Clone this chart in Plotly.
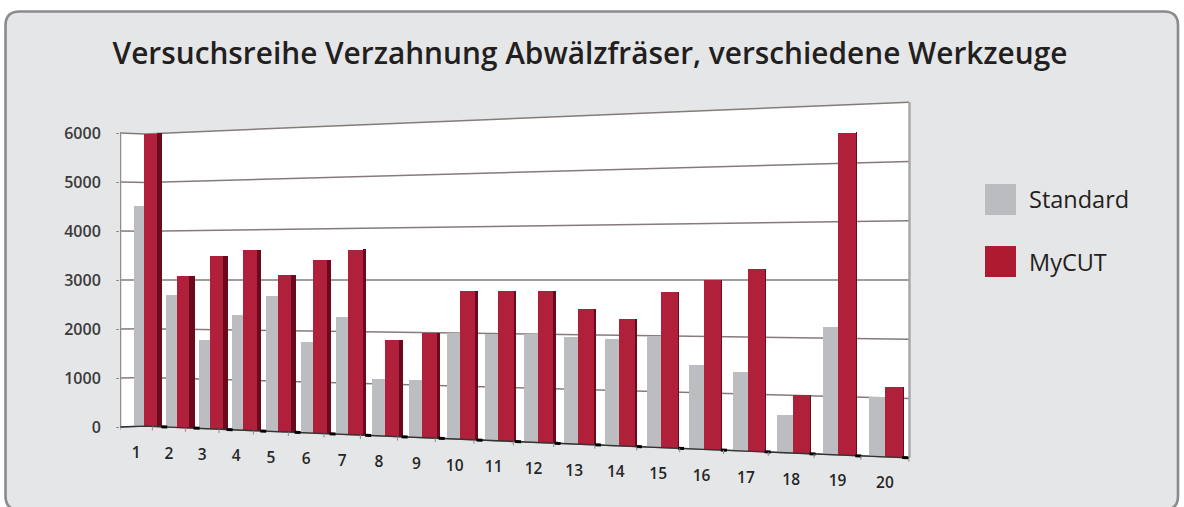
import plotly.graph_objects as go

categories = [str(i) for i in range(1, 21)]
standard = [4510, 2690, 1790, 2290, 2690, 1790, 2290, 1090, 1090, 2000,
            2000, 2000, 1960, 1930, 2000, 1490, 1390, 660, 2200, 1020]
mycut = [6000, 3080, 3490, 3590, 3090, 3390, 3590, 1850, 2000, 2790,
         2800, 2800, 2470, 2300, 2790, 3000, 3200, 1010, 5520, 1190]
y_ticks = [0, 1000, 2000, 3000, 4000, 5000, 6000]

W, H = 1184, 507
GREY, RED, DARK = "#bcbdc0", "#b0203b", "#6a0a1c"
GRID = "#857b7b"


def cell_edge(t):
    # perspective spacing of the category axis
    return 120 + 32.1 * t / (1 - 0.00931 * t)


def scale(x):
    return 48.7 + (max(x, 145) - 145) * 0.01386


def proj(v, x):
    # value seen on the receding wall, expressed on the left-hand value axis
    return 3000 + (v - 3000) * scale(x) / 49


n = len(categories)
edges = [cell_edge(i) for i in range(n + 1)]
red_left = [edges[i] + 24.2 for i in range(n)]
red_w = [18] * n
grey_w = [0.33 * (edges[i + 1] - edges[i]) for i in range(n)]
grey_c = [red_left[i] - grey_w[i] / 2 for i in range(n)]
red_c = [red_left[i] + red_w[i] / 2 for i in range(n)]
dark_w = [max(0.0, 5.5 * (1 - i / 16)) for i in range(n)]
dark_c = [red_left[i] + red_w[i] - dark_w[i] / 2 for i in range(n)]

fig = go.Figure()


def add_bars(name, centers, widths, values, color):
    fig.add_trace(go.Bar(
        name=name, x=centers, width=widths,
        base=[proj(0, c) for c in centers],
        y=[proj(v, c) - proj(0, c) for v, c in zip(values, centers)],
        marker=dict(color=color, line=dict(width=0)),
        showlegend=False,
    ))


add_bars("Standard", grey_c, grey_w, standard, GREY)
add_bars("MyCUT", red_c, red_w, mycut, RED)
add_bars("MyCUT side", dark_c, dark_w, mycut, DARK)

# floor line, tick marks, shadows
bx, by = [], []
for i in range(n):
    a = red_left[i] + red_w[i] - 1
    b = a + 6
    bx += [a, b, None]
    by += [proj(0, a), proj(0, b), None]
fig.add_trace(go.Scatter(x=[120, 145, 909], y=[0, proj(0, 145), proj(0, 909)], mode="lines",
                         line=dict(color="#333333", width=1.4), showlegend=False, hoverinfo="skip"))
fig.add_trace(go.Scatter(x=bx, y=by, mode="lines", line=dict(color="#000000", width=3),
                         showlegend=False, hoverinfo="skip"))
tx, ty = [], []
for e in edges:
    tx += [e, e, None]
    ty += [proj(0, e), proj(0, e) - 80, None]
fig.add_trace(go.Scatter(x=tx, y=ty, mode="lines", line=dict(color="#8a8a8a", width=1),
                         showlegend=False, hoverinfo="skip"))

# category labels follow the receding floor
lab_x = [(edges[i] + edges[i + 1]) / 2 for i in range(n)]
fig.add_trace(go.Scatter(
    x=lab_x, y=[proj(0, x) - 565 for x in lab_x], mode="text", text=categories,
    textfont=dict(family="Open Sans", size=15.5, color="#262626", weight=600),
    showlegend=False, hoverinfo="skip"))

shapes = [dict(type="path", xref="paper", yref="paper", layer="below",
               path="M {l},{t0} L {r0},{t0} Q {r},{t0} {r},{t1} L {r},{b1} Q {r},{b} {r0},{b} "
                    "L {l},{b} Q {L},{b} {L},{b1} L {L},{t1} Q {L},{t0} {l},{t0} Z".format(
                   L=5.5 / W, l=19.5 / W, r=1178 / W, r0=1164 / W,
                   t0=1 - 11.5 / H, t1=1 - 25.5 / H, b=1 - 510 / H, b1=1 - 496 / H),
               fillcolor="#e5e6e8", line=dict(color="#8a8b8d", width=2.6))]
shapes.append(dict(type="path", xref="x", yref="y", layer="below",
                   path=f"M 120,6000 L 145,{proj(6000,145)} L 909,{proj(6000,909)} "
                        f"L 909,{proj(0,909)} L 145,{proj(0,145)} L 120,0 Z",
                   fillcolor="#ffffff", line=dict(width=0)))
for v in y_ticks:
    shapes.append(dict(type="line", xref="x", yref="y", layer="below",
                       x0=120, y0=v, x1=145, y1=proj(v, 145), line=dict(color=GRID, width=1.5)))
    shapes.append(dict(type="line", xref="x", yref="y", layer="below",
                       x0=145, y0=proj(v, 145), x1=909, y1=proj(v, 909),
                       line=dict(color=GRID, width=1.5)))
shapes.append(dict(type="line", xref="x", yref="y", layer="below", x0=120.5, x1=120.5, y0=0, y1=6000,
                   line=dict(color="#8f8f8f", width=1.5)))
shapes.append(dict(type="line", xref="x", yref="y", layer="below", x0=909.5, x1=909.5,
                   y0=proj(0, 909), y1=proj(6000, 909), line=dict(color="#a6a6a8", width=2.4)))
# legend swatches
for top, col in [(184, "#bbbcbf"), (246, "#ae1a30")]:
    shapes.append(dict(type="rect", xref="paper", yref="paper", layer="below",
                       x0=985 / W, x1=1016 / W, y0=1 - (top + 31) / H, y1=1 - top / H,
                       fillcolor=col, line=dict(width=0)))

annotations = [
    dict(text=t, xref="paper", yref="paper", x=1026.5 / W, y=1 - yc / H, xanchor="left", yanchor="middle",
         showarrow=False, font=dict(family="Open Sans", size=23.5, color="#231f20"))
    for t, yc in [("Standard", 199), ("MyCUT", 262)]
]

fig.update_layout(
    width=W, height=H, margin=dict(l=0, r=0, t=0, b=0),
    autosize=False,
    paper_bgcolor="#ffffff", plot_bgcolor="rgba(0,0,0,0)",
    barmode="overlay", bargap=0,
    title=dict(text="Versuchsreihe Verzahnung Abwälzfräser, verschiedene Werkzeuge",
               x=590 / W, xanchor="center", y=1 - 54 / H, yanchor="middle",
               font=dict(family="Open Sans", size=29.8, color="#231f20", weight=600)),
    xaxis=dict(domain=[120 / W, 1], range=[120, W], visible=False, fixedrange=True),
    yaxis=dict(domain=[0, 1], range=[-80 / 0.049, 427 / 0.049], tickvals=y_ticks,
               ticks="outside", ticklen=3, tickcolor="#8f8f8f", showgrid=False, zeroline=False,
               showline=False, ticklabelstandoff=12, fixedrange=True,
               tickfont=dict(family="Open Sans", size=16, color="#3a3a3a", weight=600)),
    shapes=shapes, annotations=annotations, showlegend=False,
)

fig.write_html("out.html", config={"displayModeBar": False},
               post_script="document.body.style.margin='0';document.body.style.overflow='hidden';")
